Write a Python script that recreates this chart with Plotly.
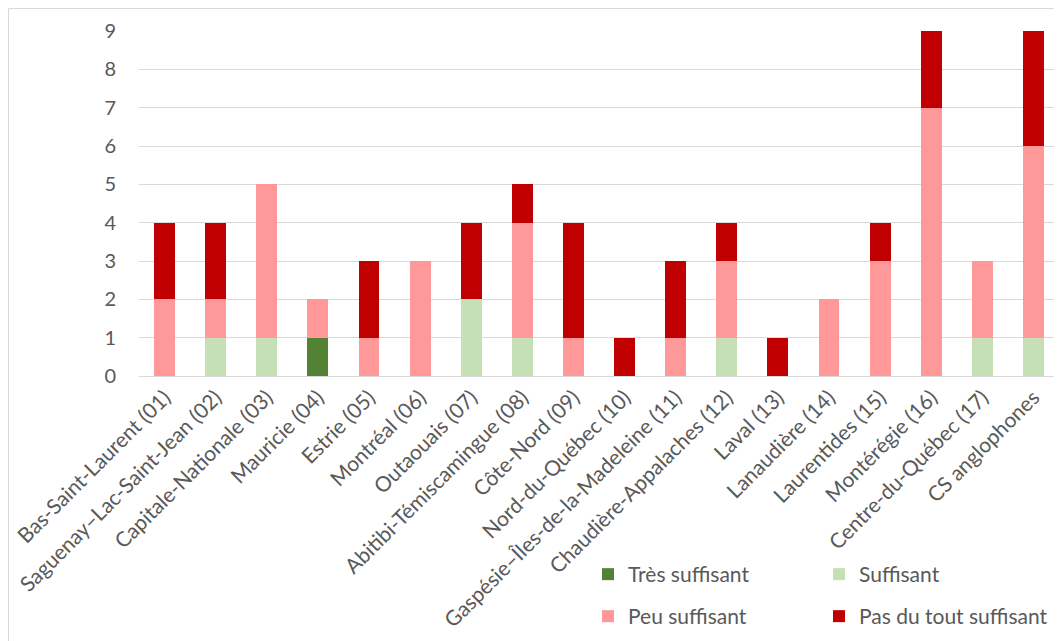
import plotly.graph_objects as go

categories = [
    "Bas-Saint-Laurent (01)", "Saguenay–Lac-Saint-Jean (02)", "Capitale-Nationale (03)",
    "Mauricie (04)", "Estrie (05)", "Montréal (06)", "Outaouais (07)",
    "Abitibi-Témiscamingue (08)", "Côte-Nord (09)", "Nord-du-Québec (10)",
    "Gaspésie–Îles-de-la-Madeleine (11)", "Chaudière-Appalaches (12)", "Laval (13)",
    "Lanaudière (14)", "Laurentides (15)", "Montérégie (16)", "Centre-du-Québec (17)",
    "CS anglophones",
]
tres_suffisant = [0, 0, 0, 1, 0, 0, 0, 0, 0, 0, 0, 0, 0, 0, 0, 0, 0, 0]
suffisant = [0, 1, 1, 0, 0, 0, 2, 1, 0, 0, 0, 1, 0, 0, 0, 0, 1, 1]
peu_suffisant = [2, 1, 4, 1, 1, 3, 0, 3, 1, 0, 1, 2, 0, 2, 3, 7, 2, 5]
pas_du_tout = [2, 2, 0, 0, 2, 0, 2, 1, 3, 1, 2, 1, 1, 0, 1, 2, 0, 3]
y_ticks = [0, 1, 2, 3, 4, 5, 6, 7, 8, 9]

series = [
    ("Très suffisant", tres_suffisant, "#548235", "legend"),
    ("Suffisant", suffisant, "#C5E0B4", "legend"),
    ("Peu suffisant", peu_suffisant, "#FF9999", "legend2"),
    ("Pas du tout suffisant", pas_du_tout, "#C00000", "legend2"),
]

FONT = "Lato, 'Open Sans', sans-serif"
TXT = "#595959"

fig = go.Figure()
for name, vals, color, leg in series:
    fig.add_trace(go.Bar(
        x=categories, y=vals, name=name, marker=dict(color=color, line=dict(width=0)),
        width=0.41, legend=leg,
    ))

W, H = 1054, 633
ML, MR, MT, MB = 131, 3, 23, 265
pw, ph = W - ML - MR, H - MT - MB

def px_x(p):
    return (p - ML) / pw

def px_y(p):
    return (H - MB - p) / ph

legend_common = dict(
    orientation="h", xanchor="left", yanchor="top",
    font=dict(family=FONT, size=21, color=TXT),
    entrywidth=186, entrywidthmode="pixels", itemwidth=30,
    bgcolor="rgba(0,0,0,0)", traceorder="normal",
)

fig.update_layout(
    width=W, height=H,
    margin=dict(l=ML, r=MR, t=MT, b=MB, autoexpand=False),
    paper_bgcolor="white", plot_bgcolor="white",
    barmode="stack",
    font=dict(family=FONT, size=21, color=TXT),
    showlegend=True,
    legend=dict(x=px_x(580), y=px_y(546), **legend_common),
    legend2=dict(x=px_x(580), y=px_y(588), **legend_common),
    xaxis=dict(
        tickangle=-45, showgrid=False, showline=True, linecolor="#D9D9D9", linewidth=1,
        ticks="", tickfont=dict(family=FONT, size=21, color=TXT), automargin=False,
    ),
    yaxis=dict(
        range=[0, 9], tickvals=y_ticks, showgrid=True, gridcolor="#D9D9D9", gridwidth=1,
        zeroline=False, showline=False, ticks="", ticklabelstandoff=22,
        tickfont=dict(family=FONT, size=20, color=TXT), automargin=False,
    ),
    shapes=[dict(
        type="rect", xref="paper", yref="paper",
        x0=px_x(0.5), x1=px_x(1070), y0=px_y(0.5), y1=px_y(660),
        line=dict(color="#D9D9D9", width=1), fillcolor="rgba(0,0,0,0)", layer="below",
    )],
)

fig.write_html("out.html")
